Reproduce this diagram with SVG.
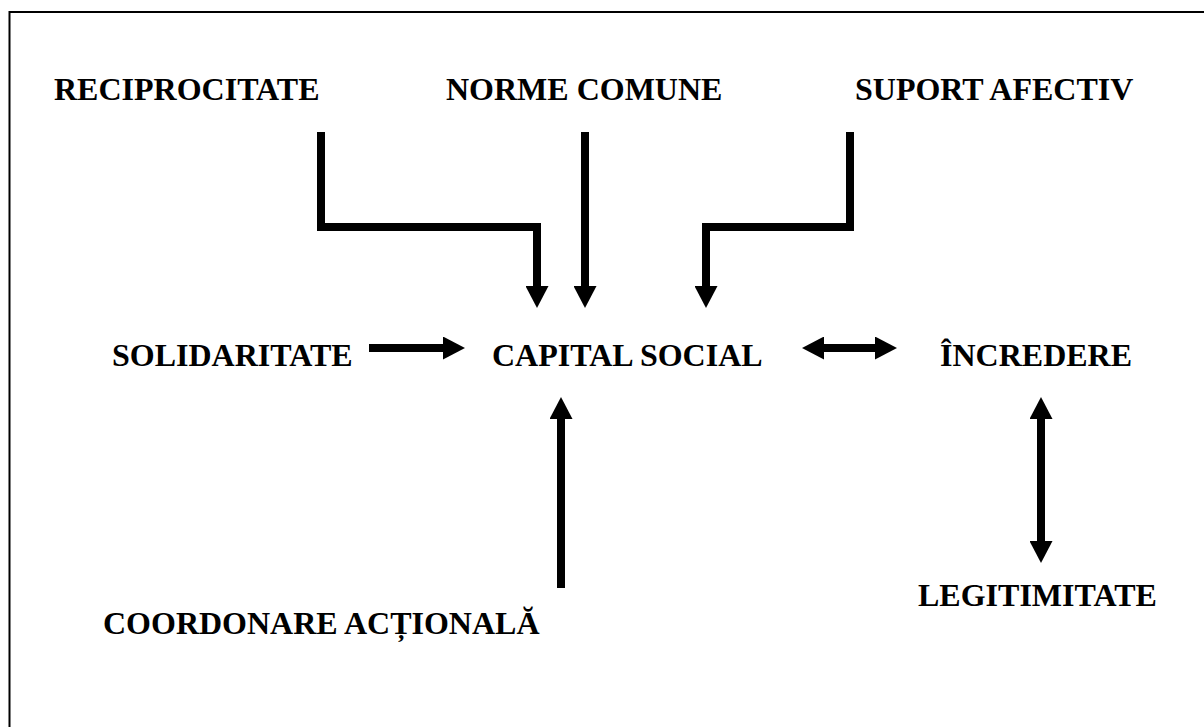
<svg xmlns="http://www.w3.org/2000/svg" width="1204" height="727" viewBox="0 0 1204 727">
  <style>
    .lbl { font-family: "Liberation Serif", "Times New Roman", serif; font-weight: bold; font-size: 32px; fill: #000; }
    .conn { fill: none; stroke: #000; stroke-width: 8; stroke-linejoin: miter; stroke-linecap: butt; }
    .frame { fill: none; stroke: #000; stroke-width: 2; }
  </style>
  <defs>
    <marker id="ah" markerUnits="userSpaceOnUse" markerWidth="23" markerHeight="23" refX="1" refY="11.5" orient="auto-start-reverse" viewBox="0 0 23 23">
      <path d="M0,0 L22,11.5 L0,23 Z" fill="#000"/>
    </marker>
  </defs>
  <rect width="1204" height="727" fill="#fff"/>
  <path class="frame" d="M9.5,727 V12 H1204"/>

  <g id="connectors">
    <path class="conn" d="M321,132 V227 H537 V287" marker-end="url(#ah)"/>
    <path class="conn" d="M585,132 V287" marker-end="url(#ah)"/>
    <path class="conn" d="M850,132 V227 H706 V287" marker-end="url(#ah)"/>
    <path class="conn" d="M369,348 H444" marker-end="url(#ah)"/>
    <path class="conn" d="M823,348 H876" marker-start="url(#ah)" marker-end="url(#ah)"/>
    <path class="conn" d="M1041,418 V542" marker-start="url(#ah)" marker-end="url(#ah)"/>
    <path class="conn" d="M561,588 V418" marker-end="url(#ah)"/>
  </g>

  <g id="reciprocitate"><text class="lbl" x="54" y="100">RECIPROCITATE</text></g>
  <g id="norme-comune"><text class="lbl" x="446" y="100">NORME COMUNE</text></g>
  <g id="suport-afectiv"><text class="lbl" x="855" y="100">SUPORT AFECTIV</text></g>
  <g id="solidaritate"><text class="lbl" x="112" y="366">SOLIDARITATE</text></g>
  <g id="capital-social"><text class="lbl" x="492" y="366">CAPITAL SOCIAL</text></g>
  <g id="incredere"><text class="lbl" x="940" y="366">ÎNCREDERE</text></g>
  <g id="legitimitate"><text class="lbl" x="918" y="606">LEGITIMITATE</text></g>
  <g id="coordonare"><text class="lbl" x="103" y="634">COORDONARE ACȚIONALĂ</text></g>
</svg>
